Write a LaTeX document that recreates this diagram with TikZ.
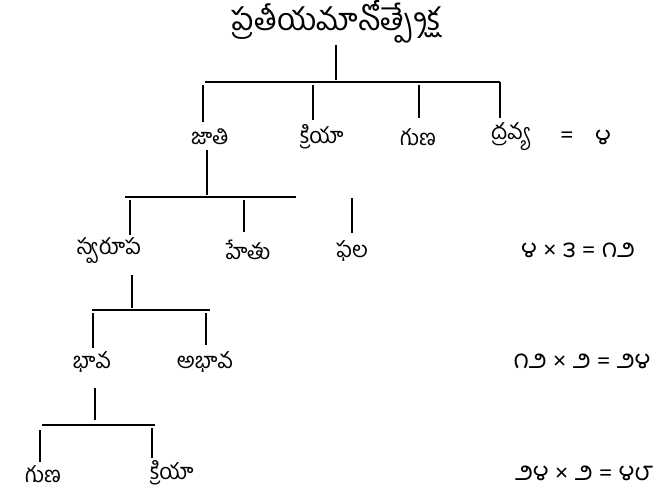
\documentclass[tikz,border=0pt]{standalone}
\usepackage{fontspec}
\newfontfamily\te[Script=Telugu]{Hind Guntur}
\IfFontExistsTF{Noto Sans Telugu}{\newfontfamily\tedig[Script=Telugu]{Noto Sans Telugu}}{%
  \IfFontExistsTF{Lohit Telugu}{\newfontfamily\tedig[Script=Telugu]{Lohit Telugu}}{%
    \newfontfamily\tedig[Script=Telugu]{Hind Guntur}}}
\begin{document}
\begin{tikzpicture}[x=1pt,y=-1pt,
  lbl/.style={font=\te\fontsize{22}{26}\selectfont, inner sep=0pt},
  dig/.style={font=\tedig\fontsize{23}{26}\selectfont, inner sep=0pt},
  ttl/.style={font=\te\fontsize{31}{36}\selectfont, inner sep=0pt},
  ln/.style={line width=1.3pt, line cap=butt}]
\useasboundingbox (0,0) rectangle (661,499);
% nodes
\node[ttl] (root) at (336,22) {ప్రతీయమానోత్ప్రేక్ష};
\node[lbl] (jati) at (210,137) {జాతి};
\node[lbl] (kriya) at (322,137) {క్రియా};
\node[lbl] (guna) at (418,137) {గుణ};
\node[lbl] (dravya) at (510,137) {ద్రవ్య};
\node[dig] (eqa) at (567,137) {=};
\node[dig] (eqb) at (603,137) {౪};
\node[lbl] (svarupa) at (109,251) {స్వరూప};
\node[lbl] (hetu) at (248,250) {హేతు};
\node[lbl] (phala) at (352,251) {ఫల};
\node[dig] (eq2) at (578,250) {౪ × ౩ = ౧౨};
\node[lbl] (bhava) at (92,362) {భావ};
\node[lbl] (abhava) at (205,362) {అభావ};
\node[dig] (eq3) at (582,361) {౧౨ × ౨ = ౨౪};
\node[lbl] (guna2) at (43,474) {గుణ};
\node[lbl] (kriya2) at (172,473) {క్రియా};
\node[dig] (eq4) at (584,473) {౨౪ × ౨ = ౪౮};
% connector coordinates
\coordinate (r0) at (336,45);  \coordinate (r1) at (336,80);
\coordinate (b1l) at (205,82); \coordinate (b1r) at (500,82);
\coordinate (j0) at (203,85);  \coordinate (j1) at (203,122);
\coordinate (k0) at (313,85);  \coordinate (k1) at (313,120);
\coordinate (g0) at (419,85);  \coordinate (g1) at (419,118);
\coordinate (d0) at (500,82);  \coordinate (d1) at (500,118);
\coordinate (js0) at (207,150); \coordinate (js1) at (207,195);
\coordinate (b2l) at (125,197); \coordinate (b2r) at (296,197);
\coordinate (s0) at (130,200); \coordinate (s1) at (130,235);
\coordinate (h0) at (244,200); \coordinate (h1) at (244,232);
\coordinate (p0) at (352,198); \coordinate (p1) at (352,233);
\coordinate (ss0) at (132,275); \coordinate (ss1) at (132,308);
\coordinate (b3l) at (92,310); \coordinate (b3r) at (210,310);
\coordinate (bh0) at (93,313); \coordinate (bh1) at (93,348);
\coordinate (ab0) at (206,313); \coordinate (ab1) at (206,345);
\coordinate (bs0) at (95,388); \coordinate (bs1) at (95,420);
\coordinate (b4l) at (42,425); \coordinate (b4r) at (155,425);
\coordinate (gu0) at (40,430); \coordinate (gu1) at (40,462);
\coordinate (kr0) at (152,428); \coordinate (kr1) at (152,458);
% connectors
\draw[ln] (r0) -- (r1);
\draw[ln] (b1l) -- (b1r);
\draw[ln] (j0) -- (j1);
\draw[ln] (k0) -- (k1);
\draw[ln] (g0) -- (g1);
\draw[ln] (d0) -- (d1);
\draw[ln] (js0) -- (js1);
\draw[ln] (b2l) -- (b2r);
\draw[ln] (s0) -- (s1);
\draw[ln] (h0) -- (h1);
\draw[ln] (p0) -- (p1);
\draw[ln] (ss0) -- (ss1);
\draw[ln] (b3l) -- (b3r);
\draw[ln] (bh0) -- (bh1);
\draw[ln] (ab0) -- (ab1);
\draw[ln] (bs0) -- (bs1);
\draw[ln] (b4l) -- (b4r);
\draw[ln] (gu0) -- (gu1);
\draw[ln] (kr0) -- (kr1);
\end{tikzpicture}
\end{document}
